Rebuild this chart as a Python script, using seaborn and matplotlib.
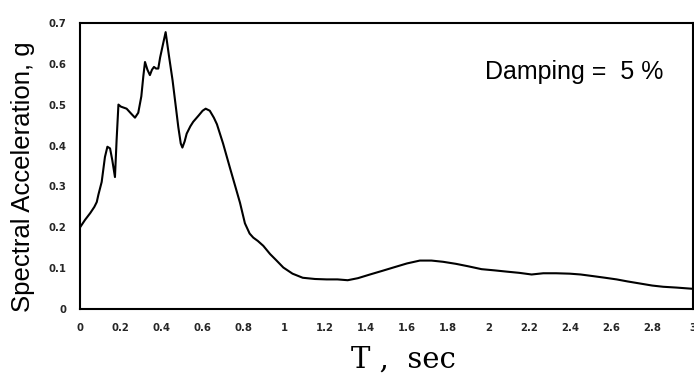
import matplotlib
matplotlib.use("Agg")
import matplotlib.pyplot as plt
import seaborn as sns
import pandas as pd

period_s = [0.0, 0.024, 0.05, 0.07, 0.082, 0.09, 0.106, 0.122, 0.134, 0.147, 0.158, 0.171,
            0.179, 0.188, 0.2, 0.228, 0.25, 0.269, 0.285, 0.3, 0.31, 0.318, 0.33, 0.342,
            0.352, 0.362, 0.372, 0.383, 0.392, 0.405, 0.419, 0.435, 0.453, 0.47, 0.481,
            0.493, 0.501, 0.512, 0.522, 0.54, 0.554, 0.58, 0.6, 0.615, 0.635, 0.655, 0.67,
            0.7, 0.734, 0.76, 0.783, 0.807, 0.83, 0.848, 0.87, 0.897, 0.93, 0.96, 0.995,
            1.04, 1.09, 1.15, 1.207, 1.26, 1.31, 1.36, 1.419, 1.48, 1.533, 1.6, 1.663,
            1.72, 1.777, 1.84, 1.9, 1.965, 2.03, 2.088, 2.15, 2.21, 2.267, 2.33, 2.397,
            2.45, 2.511, 2.57, 2.626, 2.68, 2.74, 2.8, 2.854, 2.92, 3.0]
spectral_acc = [0.20, 0.218, 0.235, 0.25, 0.262, 0.28, 0.311, 0.372, 0.397, 0.393, 0.364, 0.323,
                0.413, 0.50, 0.495, 0.49, 0.478, 0.468, 0.48, 0.52, 0.57, 0.604, 0.585, 0.572,
                0.585, 0.592, 0.588, 0.588, 0.615, 0.645, 0.677, 0.62, 0.559, 0.49, 0.445,
                0.405, 0.395, 0.41, 0.429, 0.447, 0.458, 0.473, 0.485, 0.49, 0.485, 0.468, 0.452,
                0.405, 0.345, 0.30, 0.26, 0.21, 0.185, 0.175, 0.167, 0.155, 0.135, 0.12, 0.102,
                0.087, 0.077, 0.074, 0.073, 0.073, 0.071, 0.076, 0.085, 0.094, 0.102, 0.112, 0.119,
                0.119, 0.116, 0.111, 0.105, 0.098, 0.095, 0.092, 0.089, 0.085, 0.088, 0.088, 0.087,
                0.085, 0.081, 0.077, 0.073, 0.068, 0.063, 0.058, 0.055, 0.053, 0.050]

x_ticks = [0, 0.2, 0.4, 0.6, 0.8, 1, 1.2, 1.4, 1.6, 1.8, 2, 2.2, 2.4, 2.6, 2.8, 3]
x_tick_labels = ["0", "0.2", "0.4", "0.6", "0.8", "1", "1.2", "1.4", "1.6", "1.8",
                 "2", "2.2", "2.4", "2.6", "2.8", "3"]
y_ticks = [0, 0.1, 0.2, 0.3, 0.4, 0.5, 0.6, 0.7]
y_tick_labels = ["0", "0.1", "0.2", "0.3", "0.4", "0.5", "0.6", "0.7"]

sns.set_style("white")
plt.rcParams["font.family"] = ["Liberation Sans", "DejaVu Sans"]

df = pd.DataFrame({"T": period_s, "Sa": spectral_acc})

fig = plt.figure(figsize=(6.94, 3.77), dpi=100)
ax = fig.add_axes([0.1153, 0.1796, 0.8833, 0.7602])
sns.lineplot(data=df, x="T", y="Sa", ax=ax, color="black", linewidth=1.5,
             sort=False, estimator=None)

ax.set_xlim(0, 3)
ax.set_ylim(0, 0.7)
ax.set_xticks(x_ticks)
ax.set_xticklabels(x_tick_labels, fontfamily="DejaVu Sans", fontweight="bold", fontsize=7.3)
ax.set_yticks(y_ticks)
ax.set_yticklabels(y_tick_labels, fontfamily="DejaVu Sans", fontweight="bold", fontsize=7.3)
ax.tick_params(direction="in", length=3, width=1.2, color="black", pad=10)
for s in ax.spines.values():
    s.set_color("black")
    s.set_linewidth(1.5)
    s.set_visible(True)

ax.set_ylabel("Spectral Acceleration, g", fontsize=18.5, color="black")
ax.yaxis.set_label_coords(-0.0734, 0.463)
ax.set_xlabel("T ,  sec", fontsize=21, fontfamily="DejaVu Serif", color="black")
ax.xaxis.set_label_coords(0.528, -0.128)
ax.text(1.98, 0.5634, "Damping =  5 %", fontsize=18, va="baseline", ha="left", color="black")

fig.savefig("out.png", dpi=100)
